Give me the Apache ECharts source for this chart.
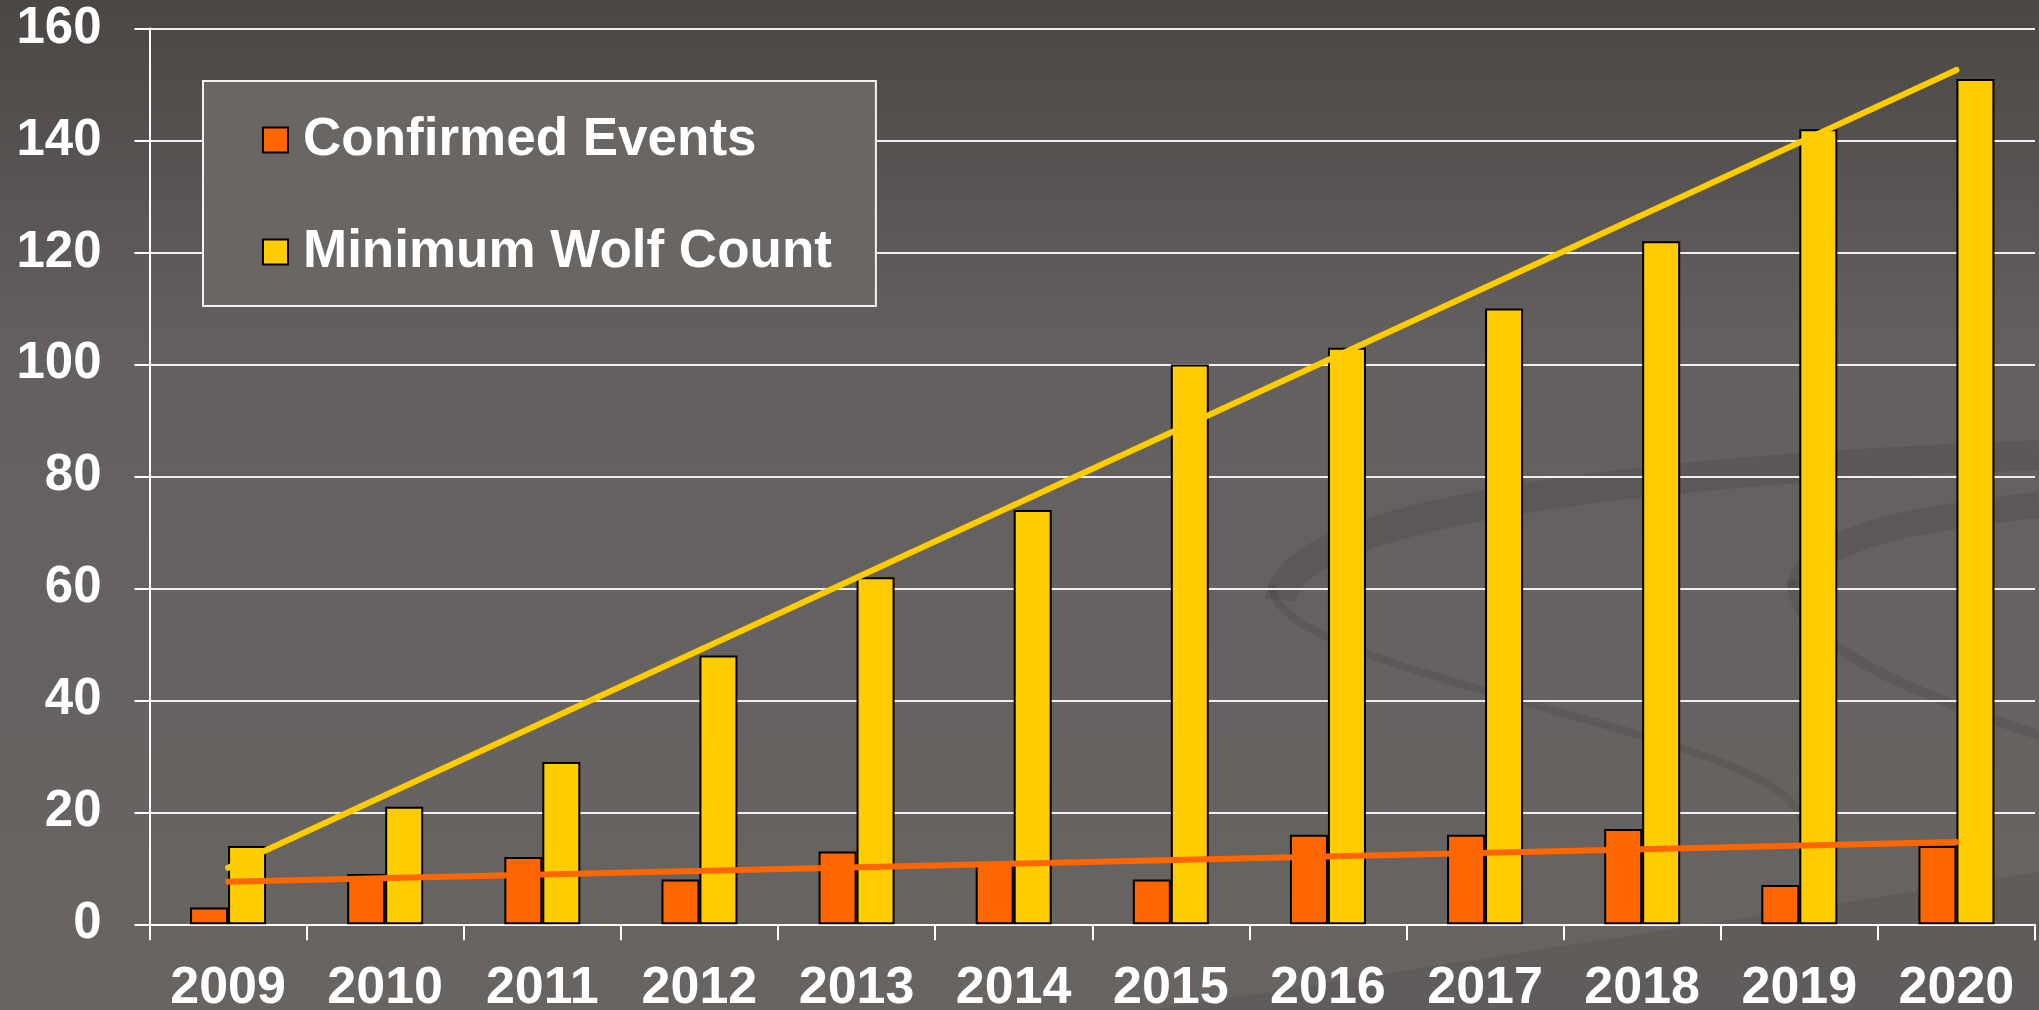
<!DOCTYPE html>
<html>
<head>
<meta charset="utf-8">
<script src="https://cdn.jsdelivr.net/npm/echarts@6/dist/echarts.min.js"></script>
<style>
html,body{margin:0;padding:0;background:#5a5654;overflow:hidden;}
#chart{width:2039px;height:1010px;}
</style>
</head>
<body>
<div id="chart"></div>
<script>
const years = ['2009','2010','2011','2012','2013','2014','2015','2016','2017','2018','2019','2020'];
const confirmedEvents = [3, 9, 12, 8, 13, 11, 8, 16, 16, 17, 7, 14];
const minimumWolfCount = [14, 21, 29, 48, 62, 74, 100, 103, 110, 122, 142, 151];
// trend line end points (2009 and 2020)
const confirmedTrend = [7.6, null, null, null, null, null, null, null, null, null, null, 14.7];
const wolfTrend = [10.1, null, null, null, null, null, null, null, null, null, null, 152.6];
const yTicks = {min: 0, max: 160, interval: 20};

const FONT = '"Liberation Sans", Arial, sans-serif';
const SHADE = 'rgba(0,0,0,0.09)';
function swirl(x1, y1, cpx1, cpy1, cpx2, cpy2, x2, y2, w) {
  return {type: 'bezierCurve', z: -10, silent: true,
    shape: {x1: x1, y1: y1, cpx1: cpx1, cpy1: cpy1, cpx2: cpx2, cpy2: cpy2, x2: x2, y2: y2},
    style: {fill: null, stroke: SHADE, lineWidth: w}};
}
const chart = echarts.init(document.getElementById('chart'));
chart.setOption({
  animation: false,
  backgroundColor: {
    type: 'linear', x: 0, y: 0, x2: 0, y2: 1,
    colorStops: [
      {offset: 0, color: '#4b4745'},
      {offset: 0.35, color: '#646060'},
      {offset: 1, color: '#686462'}
    ]
  },
  graphic: [
    swirl(1280, 600, 1290, 510, 1650, 470, 2039, 455, 30),
    swirl(1272, 585, 1272, 640, 1450, 680, 1640, 735, 8),
    swirl(1640, 735, 1740, 765, 1800, 790, 1805, 830, 8),
    swirl(1800, 590, 1805, 540, 1900, 520, 2039, 505, 26),
    swirl(1792, 580, 1790, 640, 1900, 690, 2039, 735, 10),
    {type: 'polygon', z: -10, silent: true,
     shape: {points: [[1150, 1010], [2039, 872], [2039, 1010]]},
     style: {fill: 'rgba(0,0,0,0.07)'}}
  ],
  grid: {left: 149.5, right: 4, top: 28.5, bottom: 85.7, containLabel: false, outerBoundsMode: 'none'},
  legend: {
    data: ['Confirmed Events', 'Minimum Wolf Count'],
    orient: 'vertical',
    left: 203, top: 81,
    padding: [29, 44, 24, 59],
    itemGap: 52,
    itemWidth: 25, itemHeight: 25,
    icon: 'rect',
    backgroundColor: '#6a6664',
    borderColor: '#f2f2f2',
    borderWidth: 2,
    borderRadius: 0,
    itemStyle: {borderColor: '#000000', borderWidth: 2},
    textStyle: {color: '#ffffff', fontSize: 53, fontWeight: 'bold', fontFamily: FONT, lineHeight: 60, padding: [0, 0, 0, 10]}
  },
  xAxis: {
    type: 'category',
    data: years,
    boundaryGap: true,
    axisLine: {lineStyle: {color: '#ffffff', width: 2}},
    axisTick: {show: true, length: 16, lineStyle: {color: '#ffffff', width: 2}},
    axisLabel: {color: '#ffffff', fontSize: 52, fontWeight: 'bold', fontFamily: FONT, margin: 38}
  },
  yAxis: {
    type: 'value',
    min: yTicks.min, max: yTicks.max, interval: yTicks.interval,
    axisLine: {show: true, lineStyle: {color: '#ffffff', width: 2}},
    axisTick: {show: true, length: 15, lineStyle: {color: '#ffffff', width: 2}},
    splitLine: {show: true, lineStyle: {color: '#f0f0f0', width: 2}},
    axisLabel: {color: '#ffffff', fontSize: 51, fontWeight: 'bold', fontFamily: FONT, margin: 48}
  },
  series: [
    {
      name: 'Confirmed Events', type: 'bar', data: confirmedEvents,
      barWidth: 38, barGap: '0%',
      itemStyle: {color: '#ff6600', borderColor: '#000000', borderWidth: 2}
    },
    {
      name: 'Minimum Wolf Count', type: 'bar', data: minimumWolfCount,
      barWidth: 38, barGap: '0%',
      itemStyle: {color: '#ffcc00', borderColor: '#000000', borderWidth: 2}
    },
    {
      name: 'Confirmed trend', type: 'line', data: confirmedTrend, connectNulls: true,
      symbol: 'none', z: 5,
      lineStyle: {color: '#ff6600', width: 6, cap: 'round'}
    },
    {
      name: 'Wolf trend', type: 'line', data: wolfTrend, connectNulls: true,
      symbol: 'none', z: 5,
      lineStyle: {color: '#ffcc00', width: 6, cap: 'round'}
    }
  ]
});
</script>
</body>
</html>
